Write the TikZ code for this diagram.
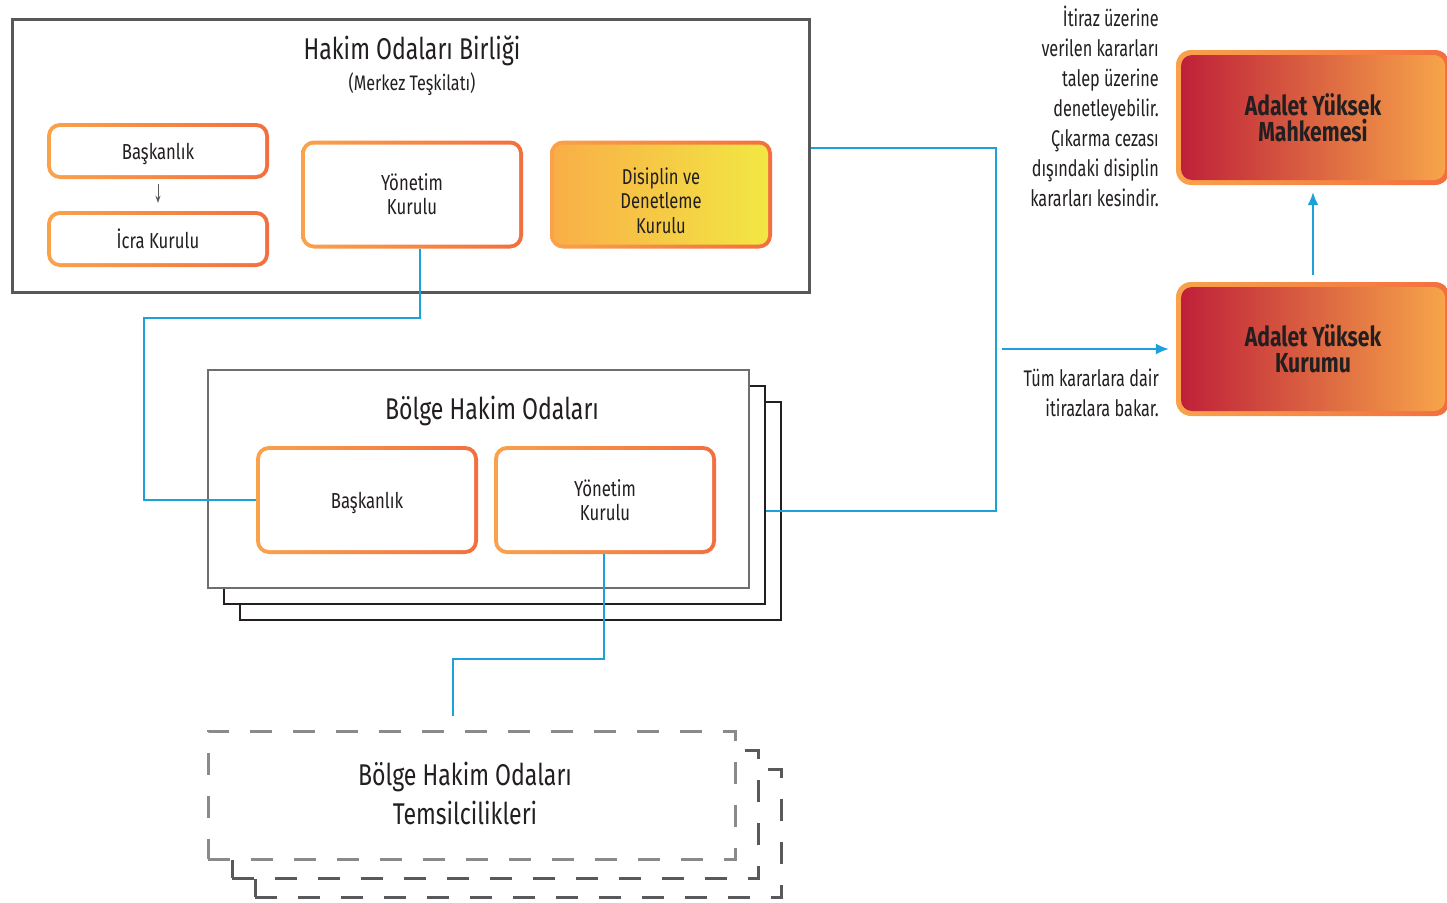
\documentclass[tikz,border=0pt]{standalone}
\usepackage{fontspec}
\setmainfont{Fira Sans}[FakeStretch=0.77]
\newfontfamily\rfont{Fira Sans}[FakeStretch=0.72]
\usetikzlibrary{calc,arrows.meta}
\definecolor{ink}{HTML}{231F20}
\definecolor{orL}{HTML}{F9A24B}
\definecolor{orR}{HTML}{F26F3F}
\definecolor{disL}{HTML}{F9AD47}
\definecolor{disR}{HTML}{F2E843}
\definecolor{redL}{HTML}{BE1E38}
\definecolor{redR}{HTML}{F8A74A}
\definecolor{cblue}{HTML}{1DA1DB}
\definecolor{gtop}{HTML}{58585A}
\definecolor{gfront}{HTML}{6D6E70}
\definecolor{dfront}{HTML}{8A8A8C}
\definecolor{dback}{HTML}{58595B}
\begin{document}
\begin{tikzpicture}[x=1pt,y=-1pt,
  txt/.style={text=ink, inner sep=0pt, align=center},
  obox/.style={rectangle, rounded corners=13pt, left color=orL, right color=orR,
    minimum width=222pt, minimum height=56pt, inner sep=0pt, align=center, text=ink,
    font=\fontsize{21.7}{24}\selectfont,
    path picture={\fill[white, rounded corners=9pt]
      ($(path picture bounding box.north west)+(4pt,-4pt)$) rectangle
      ($(path picture bounding box.south east)+(-4pt,4pt)$);}},
  dbox/.style={obox,
    path picture={\shade[left color=disL, right color=disR, rounded corners=9pt]
      ($(path picture bounding box.north west)+(4pt,-4pt)$) rectangle
      ($(path picture bounding box.south east)+(-4pt,4pt)$);}},
  rbox/.style={rectangle, rounded corners=15pt, left color=orL, right color=orR,
    minimum width=274pt, minimum height=135pt, inner sep=0pt, align=center, text=ink,
    font=\bfseries\fontsize{27.5}{26}\selectfont,
    path picture={\shade[left color=redL, right color=redR, rounded corners=11pt]
      ($(path picture bounding box.north west)+(5pt,-5pt)$) rectangle
      ($(path picture bounding box.south east)+(-5pt,5pt)$);}},
  frame/.style={rectangle, fill=white, inner sep=0pt, line width=2.5pt},
  dframe/.style={rectangle, fill=white, inner sep=0pt, line width=3pt, dash pattern=on 22pt off 21pt},
  conn/.style={draw=cblue, line width=1.6pt},
  blarrow/.style={-{Latex[length=13pt,width=11pt]}}
]
\useasboundingbox (0,0) rectangle (1447,902);

% top frame
\node[frame, draw=gtop, line width=3pt, minimum width=797pt, minimum height=273pt] (hob) at (410.5,155.5) {};
\node[txt, font=\fontsize{30}{32}\selectfont] (t1) at (412,51) {Hakim Odaları Birliği};
\node[txt, font=\fontsize{21}{24}\selectfont] (t2) at (412,84) {(Merkez Teşkilatı)};

\node[obox, text depth=0pt] (tb) at (158,151) {Başkanlık};
\node[obox] (ic) at (158,239) {İcra Kurulu};
\node[obox, minimum height=108pt] (yk) at (412,194.5) {Yönetim\\Kurulu};
\node[dbox, minimum height=108pt] (dd) at (661,194.5) {};
\node[txt, font=\fontsize{21.5}{24.5}\selectfont] (ddt) at (661,200.5) {Disiplin ve\\Denetleme\\Kurulu};
\draw[-{Stealth[length=7pt,width=5pt]}, draw=ink!75, fill=ink!75, line width=1pt] ([yshift=-5pt]tb.south) -- ([yshift=8pt]ic.north);

% regional stack
\node[frame, draw=ink, minimum width=541pt, minimum height=218pt] (bk2) at (510.5,511) {};
\node[frame, draw=ink, minimum width=541pt, minimum height=218pt] (bk1) at (494.5,495) {};
\node[frame, draw=gfront, minimum width=541pt, minimum height=218pt] (bho) at (478.5,479) {};
\node[txt, font=\fontsize{30}{32}\selectfont] (t3) at (492,411) {Bölge Hakim Odaları};
\node[obox, minimum height=108pt, text depth=0pt] (bb) at (367,500) {Başkanlık};
\node[obox, minimum height=108pt] (byk) at (605,500) {Yönetim\\Kurulu};

% dashed stack
\node[dframe, draw=dback, minimum width=526pt, minimum height=128pt] (dk2) at (518,833) {};
\node[dframe, draw=dback, minimum width=526pt, minimum height=128pt] (dk1) at (495,814) {};
\node[dframe, draw=dfront, minimum width=527pt, minimum height=128pt] (rep) at (471.5,795) {};
\node[txt, font=\fontsize{30}{39}\selectfont] (t4) at (465,793) {Bölge Hakim Odaları\\Temsilcilikleri};

% right side
\node[rbox] (aym) at (1313,117.5) {Adalet Yüksek\\Mahkemesi};
\node[rbox, minimum height=134pt] (ayk) at (1313,349) {Adalet Yüksek\\Kurumu};
\node[txt, anchor=north east, align=right, font=\rfont\fontsize{22.6}{30}\selectfont] (n1) at (1159,6)
  {İtiraz üzerine\\verilen kararları\\talep üzerine\\denetleyebilir.\\Çıkarma cezası\\dışındaki disiplin\\kararları kesindir.};
\node[txt, anchor=north east, align=right, font=\rfont\fontsize{22.6}{30}\selectfont] (n2) at (1159,369)
  {Tüm kararlara dair\\itirazlara bakar.};

% connectors
\coordinate (j1) at (996,349);
\coordinate (rt) at (453,716);
\draw[conn] ([xshift=8pt]yk.south) -- ++(0,69) -| ($(bb.west)+(-112,0)$) -- (bb.west);
\draw[conn] ([yshift=7.5pt]hob.east) -| (j1) |- ([yshift=-16pt]bk1.east);
\draw[conn, blarrow] ([xshift=6pt]j1) -- ([xshift=-7pt]ayk.west);
\draw[conn, blarrow] ([yshift=7pt]ayk.north) -- ([yshift=-7pt]aym.south);
\draw[conn] ([xshift=-1pt]byk.south) -- ++(0,105) -| (rt);
\end{tikzpicture}
\end{document}
